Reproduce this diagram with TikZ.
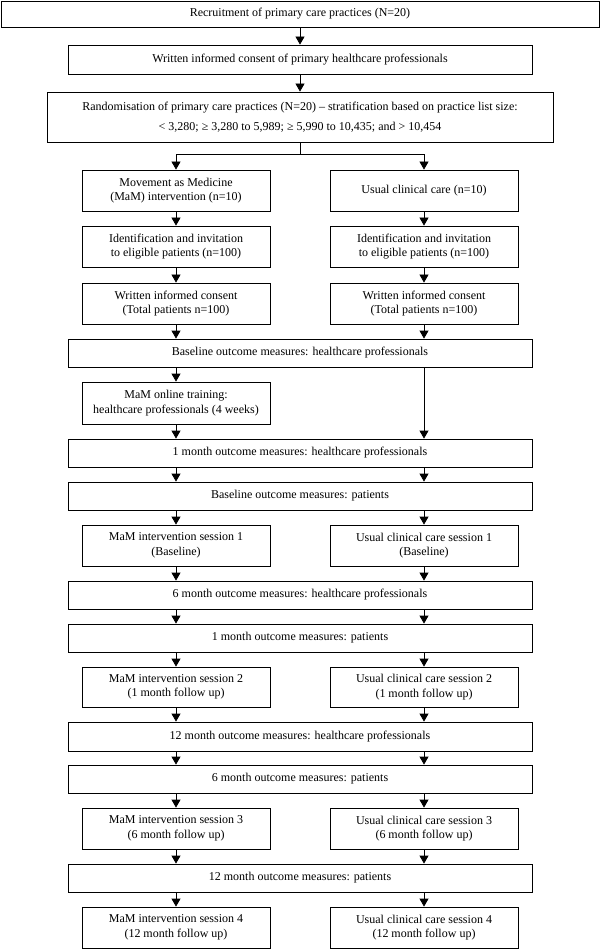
\documentclass[tikz,border=0pt]{standalone}
\usepackage{fontspec}
\setmainfont{Liberation Serif}
\usetikzlibrary{arrows.meta}
\begin{document}
\begin{tikzpicture}[x=1pt,y=1pt,
  box/.style={draw, line width=0.8pt, align=center, inner sep=0pt, font=\fontsize{12}{14.5}\selectfont},
  wide/.style={box, minimum width=464pt, minimum height=28pt},
  colbox/.style={box, minimum width=188pt, minimum height=41pt},
  arr/.style={line width=0.8pt, -{Triangle[width=9pt,length=8pt]}},
  ln/.style={line width=0.8pt}]
\useasboundingbox (0,0) rectangle (600,-949);
\coordinate (L) at (176,0);
\coordinate (R) at (424,0);
% top
\node[box, minimum width=598pt, minimum height=26pt] (rec) at (300,-14) {Recruitment of primary care practices (N=20)};
\node[wide, minimum height=29pt] (wic) at (300,-59.5) {Written informed consent of primary healthcare professionals};
\node[box, minimum width=506pt, minimum height=50pt] (rand) at (300,-117) {Randomisation of primary care practices (N=20) -- stratification based on practice list size:\\[5.5pt] < 3,280; ≥ 3,280 to 5,989; ≥ 5,990 to 10,435; and > 10,454};
\coordinate (sp) at (300,-154);
% columns
\node[colbox] (mov) at (176,-190.5) {Movement as Medicine\\(MaM) intervention (n=10)};
\node[colbox] (usu) at (424,-190.5) {Usual clinical care (n=10)};
\node[colbox] (idl) at (176,-246.5) {Identification and invitation\\to eligible patients (n=100)};
\node[colbox] (idr) at (424,-246.5) {Identification and invitation\\to eligible patients (n=100)};
\node[colbox] (col) at (176,-303.5) {Written informed consent\\(Total patients n=100)};
\node[colbox] (cor) at (424,-303.5) {Written informed consent\\(Total patients n=100)};
\node[wide] (bhp) at (300,-353) {Baseline outcome measures: healthcare professionals};
\node[colbox, minimum height=42pt] (onl) at (176,-403) {MaM online training:\\healthcare professionals (4 weeks)};
\node[wide] (m1hp) at (300,-453) {1 month outcome measures: healthcare professionals};
\node[wide] (bp) at (300,-496) {Baseline outcome measures: patients};
\node[colbox] (s1l) at (176,-545.5) {MaM intervention session 1\\(Baseline)};
\node[colbox] (s1r) at (424,-545.5) {Usual clinical care session 1\\(Baseline)};
\node[wide] (m6hp) at (300,-595) {6 month outcome measures: healthcare professionals};
\node[wide] (m1p) at (300,-638) {1 month outcome measures: patients};
\node[colbox, minimum height=40pt] (s2l) at (176,-687) {MaM intervention session 2\\(1 month follow up)};
\node[colbox, minimum height=40pt] (s2r) at (424,-687) {Usual clinical care session 2\\(1 month follow up)};
\node[wide, minimum height=29pt] (m12hp) at (300,-736.5) {12 month outcome measures: healthcare professionals};
\node[wide] (m6p) at (300,-779) {6 month outcome measures: patients};
\node[colbox] (s3l) at (176,-828.5) {MaM intervention session 3\\(6 month follow up)};
\node[colbox] (s3r) at (424,-828.5) {Usual clinical care session 3\\(6 month follow up)};
\node[wide] (m12p) at (300,-878) {12 month outcome measures: patients};
\node[colbox] (s4l) at (176,-927.5) {MaM intervention session 4\\(12 month follow up)};
\node[colbox] (s4r) at (424,-927.5) {Usual clinical care session 4\\(12 month follow up)};
% connectors
\draw[arr] (rec) -- (wic);
\draw[arr] (wic) -- (rand);
\draw[ln] (rand.south) -- (sp);
\draw[arr] (sp) -| (mov.north);
\draw[arr] (sp) -| (usu.north);
\draw[arr] (mov) -- (idl);
\draw[arr] (usu) -- (idr);
\draw[arr] (idl) -- (col);
\draw[arr] (idr) -- (cor);
\draw[arr] (col.south) -- (col.south |- bhp.north);
\draw[arr] (cor.south) -- (cor.south |- bhp.north);
\draw[arr] (bhp.south -| onl) -- (onl.north);
\draw[arr] (bhp.south -| R) -- (m1hp.north -| R);
\draw[arr] (onl.south) -- (onl.south |- m1hp.north);
\foreach \a/\b in {m1hp/bp, m6hp/m1p, m12hp/m6p}{
  \draw[arr] (\a.south -| L) -- (\b.north -| L);
  \draw[arr] (\a.south -| R) -- (\b.north -| R);
}
\foreach \a/\l/\r in {bp/s1l/s1r, m1p/s2l/s2r, m6p/s3l/s3r, m12p/s4l/s4r}{
  \draw[arr] (\a.south -| \l) -- (\l.north);
  \draw[arr] (\a.south -| \r) -- (\r.north);
}
\foreach \l/\r/\b in {s1l/s1r/m6hp, s2l/s2r/m12hp, s3l/s3r/m12p}{
  \draw[arr] (\l.south) -- (\l.south |- \b.north);
  \draw[arr] (\r.south) -- (\r.south |- \b.north);
}
\end{tikzpicture}
\end{document}
